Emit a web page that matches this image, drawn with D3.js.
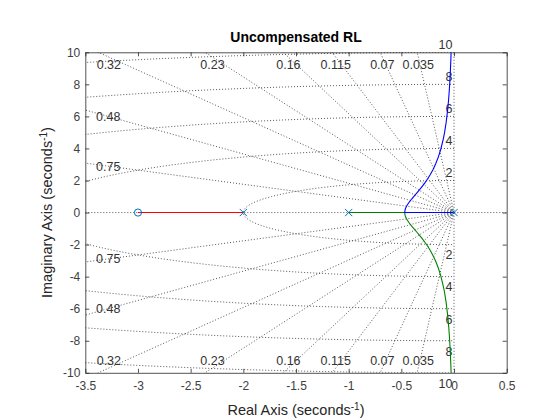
<!DOCTYPE html>
<html><head><meta charset="utf-8">
<script src="https://cdn.jsdelivr.net/npm/d3@7"></script>
<style>
body{margin:0;background:#fff}
svg text{font-family:"Liberation Sans",Arial,Helvetica,sans-serif}
</style>
</head><body>
<svg id="chart" width="560" height="420"></svg>
<script>
// ---- data ----
const xTicks = [-3.5,-3,-2.5,-2,-1.5,-1,-0.5,0,0.5];
const yTicks = [-10,-8,-6,-4,-2,0,2,4,6,8,10];
const poles = [0,-1,-2];
const zerosRL = [-3];
const dampingRatios = [0.035,0.07,0.115,0.16,0.23,0.32,0.48,0.75];
const naturalFreqs = [2,4,6,8,10];
// complex branch (upper half)
const locusRe = [-0.468,-0.465,-0.46,-0.45,-0.425,-0.40,-0.375,-0.35,-0.325,-0.30,-0.275,-0.25,-0.225,-0.20,-0.175,-0.15,-0.125,-0.10,-0.09,-0.075,-0.06,-0.05,-0.045,-0.04,-0.035,-0.03,-0.025];
const locusIm = [0,0.159,0.265,0.405,0.654,0.860,1.053,1.245,1.441,1.646,1.866,2.107,2.373,2.676,3.027,3.446,3.967,4.646,4.986,5.608,6.431,7.162,7.612,8.139,8.77,9.549,10.54];
const redRe = [-2,-3];

// ---- layout ----
const L=85.3, R=506.7, T=52.3, B=372.8;
const svg = d3.select("#chart");
const x = d3.scaleLinear().domain([-3.5,0.5]).range([L,R]);
const y = d3.scaleLinear().domain([-10,10]).range([B,T]);
const axCol="#262626", tickTxt="#404040";

svg.append("defs").append("clipPath").attr("id","clip")
  .append("rect").attr("x",L).attr("y",T).attr("width",R-L).attr("height",B-T);

const grid = svg.append("g").attr("clip-path","url(#clip)")
  .attr("fill","none").attr("stroke","#3a3a3a").attr("stroke-width",0.85)
  .attr("stroke-dasharray","1,2");
const line = d3.line().x(d=>x(d[0])).y(d=>y(d[1]));

// damping rays
dampingRatios.forEach(z=>{
  const s=Math.sqrt(1-z*z);
  [1,-1].forEach(sg=>{
    grid.append("path").attr("d",line([[0,0],[-z*30,sg*s*30]]));
  });
});
// zeta = 0 and zeta = 1 lines
grid.append("path").attr("d",line([[0,-10],[0,10]]));
grid.append("path").attr("d",line([[-3.5,0],[0.5,0]]));
// natural frequency circles (left half plane)
naturalFreqs.forEach(w=>{
  const pts=d3.range(0,181,2).map(a=>{
    const t=(90+a)*Math.PI/180; return [w*Math.cos(t), w*Math.sin(t)];
  });
  grid.append("path").attr("d",line(pts));
});

// labels for damping lines
const lab = svg.append("g").attr("fill","#333").attr("font-size","12.5px");
dampingRatios.forEach(z=>{
  const s=Math.sqrt(1-z*z);
  const yAtLeft = 3.5*s/z;
  [1,-1].forEach(sg=>{
    let cx, cy;
    if (yAtLeft>10){
      cx = x(-9.7*z/s);
      cy = y(sg*9.25);
    } else {
      const xl=-3.282;
      cx = x(xl);
      cy = y(sg*(-xl)*s/z);
    }
    lab.append("text").attr("x",cx).attr("y",cy+4.4)
      .attr("text-anchor","middle").text(String(z));
  });
});
// labels for natural frequencies
naturalFreqs.forEach(w=>{
  lab.append("text").attr("x",x(0)-1.5).attr("y",y(w)-3.7)
    .attr("text-anchor","end").text(w);
  lab.append("text").attr("x",x(0)-1.5).attr("y",y(-w)+14.8)
    .attr("text-anchor","end").text(w);
});

// locus branches
const loc = svg.append("g").attr("clip-path","url(#clip)").attr("fill","none").attr("stroke-width",1.1);
const upper = locusRe.map((r,i)=>[r,locusIm[i]]);
const lower = locusRe.map((r,i)=>[r,-locusIm[i]]);
loc.append("path").attr("stroke","#ff0000").attr("d",line(redRe.map(r=>[r,0])));
loc.append("path").attr("stroke","#008000").attr("d",line([[poles[1],0]].concat(lower)));
loc.append("path").attr("stroke","#0000ff").attr("d",line([[poles[0],0]].concat(upper)));

// markers
const mk = svg.append("g").attr("fill","none").attr("stroke","#0072bd").attr("stroke-width",1);
poles.forEach(p=>{
  const cx=x(p), cy=y(0), h=3.6;
  mk.append("path").attr("d",`M${cx-h},${cy-h}L${cx+h},${cy+h}M${cx-h},${cy+h}L${cx+h},${cy-h}`);
});
zerosRL.forEach(zr=>{
  mk.append("circle").attr("cx",x(zr)).attr("cy",y(0)).attr("r",3.6);
});

// axes
function styleAx(g){
  g.selectAll("path,line").attr("stroke",axCol).attr("stroke-width",0.8);
  g.selectAll("text").attr("fill",tickTxt).attr("font-size","12px")
    .attr("font-family",'"Liberation Sans",Arial,Helvetica,sans-serif');
}
const tf = d=>String(d);
svg.append("g").attr("transform",`translate(0,${B})`)
  .call(d3.axisBottom(x).tickValues(xTicks).tickSizeInner(-4).tickSizeOuter(0).tickPadding(9).tickFormat(tf))
  .call(styleAx);
svg.append("g").attr("transform",`translate(0,${T})`)
  .call(d3.axisTop(x).tickValues(xTicks).tickSizeInner(-4).tickSizeOuter(0).tickFormat(""))
  .call(styleAx);
svg.append("g").attr("transform",`translate(${L},0)`)
  .call(d3.axisLeft(y).tickValues(yTicks).tickSizeInner(-4).tickSizeOuter(0).tickPadding(5).tickFormat(tf))
  .call(styleAx);
svg.append("g").attr("transform",`translate(${R},0)`)
  .call(d3.axisRight(y).tickValues(yTicks).tickSizeInner(-4).tickSizeOuter(0).tickFormat(""))
  .call(styleAx);
svg.selectAll(".domain").attr("fill","none");

// title & axis labels
svg.append("text").attr("x",(L+R)/2).attr("y",41.5).attr("text-anchor","middle")
  .attr("font-size","14px").attr("font-weight","bold").attr("fill","#000").text("Uncompensated RL");
const xl = svg.append("text").attr("x",(L+R)/2).attr("y",415).attr("text-anchor","middle")
  .attr("font-size","14.5px").attr("fill",axCol);
xl.append("tspan").text("Real Axis (seconds");
xl.append("tspan").attr("font-size","10px").attr("dy","-5.5").text("-1");
xl.append("tspan").attr("dy","5.5").text(")");
const yl = svg.append("text").attr("transform",`translate(52,${(T+B)/2}) rotate(-90)`)
  .attr("text-anchor","middle").attr("font-size","14.5px").attr("fill",axCol);
yl.append("tspan").text("Imaginary Axis (seconds");
yl.append("tspan").attr("font-size","10px").attr("dy","-5.5").text("-1");
yl.append("tspan").attr("dy","5.5").text(")");
</script>
</body></html>
